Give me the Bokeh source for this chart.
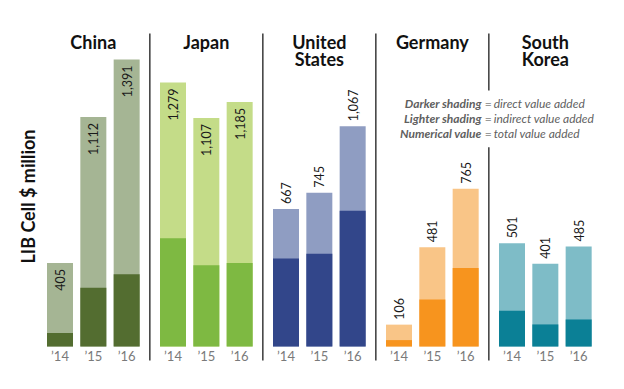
import math
from bokeh.plotting import figure
from bokeh.models import ColumnDataSource, Range1d
from bokeh.core.properties import value
from bokeh.embed import file_html
from bokeh.resources import INLINE

# ---------------- data ----------------
countries = ["China", "Japan", "United States", "Germany", "South Korea"]
years = ["\u201914", "\u201915", "\u201916"]
total_value = [[405, 1112, 1391], [1279, 1107, 1185], [667, 745, 1067],
               [106, 481, 765], [501, 401, 485]]
direct_value = [[66, 285, 350], [525, 394, 405], [427, 449, 658],
                [31, 228, 381], [173, 107, 131]]
light_colors = ["#a5b594", "#c4dc88", "#8f9dc2", "#f9c587", "#7ebcc7"]
dark_colors = ["#536d30", "#7eb942", "#32468a", "#f7941e", "#0b8096"]
label_inside = [True, True, False, False, False]
legend_bold = ["Darker shading", "Lighter shading", "Numerical value"]
legend_rest = ["direct value added", "indirect value added", "total value added"]
y_title = "LIB Cell $ million"

# ---------------- layout ----------------
W, H = 624, 389
GROUP_PITCH = 3.39
BAR_W = 0.78
x0, x1 = -1.785, 16.935
y0, y1 = -208.4, 1677
px_x = W / (x1 - x0)   # pixels per x unit
px_y = H / (y1 - y0)   # pixels per y unit

p = figure(width=W, height=H, output_backend="svg", toolbar_location=None,
           x_range=Range1d(x0, x1), y_range=Range1d(y0, y1),
           x_axis_type=None, y_axis_type=None, min_border=0)
p.outline_line_color = None
p.grid.visible = False
p.background_fill_color = "white"

xs, tops, dirs, lc, dc, yl = [], [], [], [], [], []
lab_x, lab_y, lab_t, lab_a = [], [], [], []
for g, c in enumerate(countries):
    for i in range(3):
        x = g * GROUP_PITCH + i
        xs.append(x)
        tops.append(total_value[g][i])
        dirs.append(direct_value[g][i])
        lc.append(light_colors[g])
        dc.append(dark_colors[g])
        yl.append(years[i])
        t = total_value[g][i]
        lab_x.append(x)
        lab_t.append(f"{t:,}")
        if label_inside[g]:
            lab_y.append(t - 6 / px_y)
            lab_a.append("right")
        else:
            lab_y.append(t + 5 / px_y)
            lab_a.append("left")

src = ColumnDataSource(dict(x=xs, top=tops, direct=dirs, lc=lc, dc=dc, year=yl))
p.vbar(x="x", top="top", bottom=0, width=BAR_W, fill_color="lc", line_color=None, source=src)
p.vbar(x="x", top="direct", bottom=0, width=BAR_W, fill_color="dc", line_color=None, source=src)

# year labels
src_year = ColumnDataSource(dict(x=xs, y=[-45] * len(xs), t=yl))
p.text(x="x", y="y", text="t", source=src_year, text_align="center", text_baseline="middle",
       text_font=value("Lato"), text_font_size="13px", text_color="#7a7a7a")

# value labels
src_lab = ColumnDataSource(dict(x=lab_x, y=lab_y, t=lab_t, a=lab_a))
p.text(x="x", y="y", text="t", angle=math.pi / 2, source=src_lab, text_align="a",
       text_baseline="middle", text_font=value("Lato"), text_font_size="12.5px",
       text_color="#1a1a1a")

# country titles
cx, cy, ct = [], [], []
for g, c in enumerate(countries):
    parts = c.split(" ")
    for k, part in enumerate(parts):
        cx.append(g * GROUP_PITCH + 1)
        cy.append(1474 - k * 17 / px_y)
        ct.append(part)
p.text(x=cx, y=cy, text=ct, text_align="center", text_baseline="middle",
       text_font=value("Lato"), text_font_style="bold", text_font_size="18px",
       text_color="#111111")

# separators
sep_top, sep_bot = 1517, -68
gap_top, gap_bot = 1241, 966
sx0, sx1, sy0, sy1 = [], [], [], []
for g in range(len(countries) - 1):
    sx = g * GROUP_PITCH + 2 + (GROUP_PITCH - 2) / 2
    if g == len(countries) - 2:
        sx0 += [sx, sx]; sx1 += [sx, sx]
        sy0 += [sep_top, gap_bot]; sy1 += [gap_top, sep_bot]
    else:
        sx0.append(sx); sx1.append(sx); sy0.append(sep_top); sy1.append(sep_bot)
p.segment(x0=sx0, y0=sy0, x1=sx1, y1=sy1, line_color="#3a3a3a", line_width=1.5)

# legend text
eq_x = 3 * GROUP_PITCH + 2 + (GROUP_PITCH - 2) / 2 - 0.02
ly = [1178, 1105, 1032]
p.text(x=[eq_x - 6.5 / px_x] * 3, y=ly, text=legend_bold, text_align="right",
       text_baseline="middle", text_font=value("Lato"), text_font_style="bold italic",
       text_font_size="12px", text_color="#5f5f5f")
p.text(x=[eq_x] * 3, y=ly, text=["="] * 3, text_align="center",
       text_baseline="middle", text_font=value("Lato"), text_font_size="12px",
       text_color="#999999")
p.text(x=[eq_x + 5.5 / px_x] * 3, y=ly, text=legend_rest, text_align="left",
       text_baseline="middle", text_font=value("Lato"), text_font_style="italic",
       text_font_size="12px", text_color="#5f5f5f")

# y title
p.text(x=[27 / px_x + x0], y=[727], text=[y_title], angle=math.pi / 2,
       text_align="center", text_baseline="middle", text_font=value("Lato"),
       text_font_style="bold", text_font_size="18px", text_color="#111111")

open("out.html", "w").write(file_html(p, INLINE))
